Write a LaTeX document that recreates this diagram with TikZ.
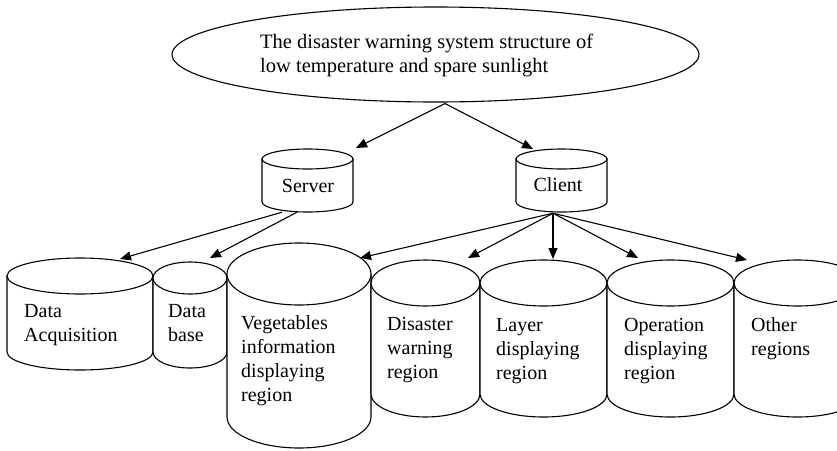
\documentclass[tikz,border=0pt]{standalone}
\usepackage{fontspec}
\setmainfont{Liberation Serif}
\usetikzlibrary{arrows.meta,shapes.geometric}
\tikzset{
  cylbody/.style={draw, line width=1.1pt, fill=white},
  cylbox/.style={inner sep=0pt, draw=none},
  lbl/.style={font=\fontsize{20}{24}\selectfont, align=left, inner sep=0pt, anchor=base west},
  clbl/.style={font=\fontsize{20}{24}\selectfont, inner sep=0pt, anchor=base},
  arr/.style={line width=1.1pt, -{Triangle[length=11pt,width=9pt]}}
}
% #1 name, #2 x1, #3 x2, #4 ytop, #5 ybot, #6 ry
\newcommand\mycyl[6]{%
  \pgfmathsetmacro\cylcx{(#2+#3)/2}%
  \pgfmathsetmacro\cylrx{(#3-#2)/2}%
  \pgfmathsetmacro\cylw{#3-#2}%
  \pgfmathsetmacro\cylh{#5-#4}%
  \pgfmathsetmacro\cylcy{(#4+#5)/2}%
  \draw[cylbody] (#2,#4+#6) -- (#2,#5-#6)
     arc[start angle=180, end angle=0, x radius=\cylrx, y radius=#6]
     -- (#3,#4+#6) -- cycle;
  \draw[cylbody] (\cylcx,#4+#6) ellipse[x radius=\cylrx, y radius=#6];
  \node[cylbox, minimum width=\cylw pt, minimum height=\cylh pt] (#1) at (\cylcx,\cylcy) {};
}
\begin{document}
\begin{tikzpicture}[x=1pt, y=-1pt]
\useasboundingbox (0,0) rectangle (837,450);
\fill[white] (0,0) rectangle (837,450);

% top ellipse
\node[draw, ellipse, line width=1.1pt, minimum width=527pt, minimum height=95pt,
      inner sep=0pt] (sys) at (435.5,54.5) {};
\node[lbl, font=\fontsize{20.5}{24}\selectfont] (sysT) at (260,72)
  {The disaster warning system structure of\\low temperature and spare sunlight};

% second level
\mycyl{server}{262}{353}{149}{212}{10}
\mycyl{client}{516}{607}{149}{212}{10}
\node[clbl] (serverT) at (308,192) {Server};
\node[clbl] (clientT) at (558,191) {Client};

% bottom level
\mycyl{da}{7}{153}{258}{370}{18}
\mycyl{db}{153}{227}{262}{368}{16}
\mycyl{veg}{227}{371}{243}{448}{31}
\mycyl{dis}{371}{480}{260}{417}{23}
\mycyl{lay}{480}{607}{260}{417}{23}
\mycyl{ope}{607}{734}{260}{417}{23}
\mycyl{oth}{734}{861}{260}{417}{23}

% anchor = baseline of the last line
\node[lbl] (daT) at (24,341) {Data\\Acquisition};
\node[lbl] (dbT) at (168,341) {Data\\base};
\node[lbl] (vegT) at (241,401) {Vegetables\\information\\displaying\\region};
\node[lbl] (disT) at (387,378) {Disaster\\warning\\region};
\node[lbl] (layT) at (496,379) {Layer\\displaying\\region};
\node[lbl] (opeT) at (624,379) {Operation\\displaying\\region};
\node[lbl] (othT) at (751,355) {Other\\regions};

% connector end points
\coordinate (sysS) at ([xshift=9.5pt,yshift=-1pt]sys.south);
\coordinate (serverTip) at (356,148);
\coordinate (clientTip) at (533,149);
\coordinate (serverS1) at ([xshift=-25.5pt]server.south);
\coordinate (serverS2) at ([xshift=-10.5pt]server.south);
\coordinate (clientS) at ([xshift=-8.5pt,yshift=-1pt]client.south);
\coordinate (daTip) at (120,259);
\coordinate (dbTip) at (210,258);
\coordinate (vegTip) at (360,258);
\coordinate (disTip) at (468,258);
\coordinate (layTip) at (553,259);
\coordinate (opeTip) at (638,258);
\coordinate (othTip) at (747,260);

\draw[arr] (sysS) -- (serverTip);
\draw[arr] (sysS) -- (clientTip);
\draw[arr] (serverS1) -- (daTip);
\draw[arr] (serverS2) -- (dbTip);
\draw[arr] (clientS) -- (vegTip);
\draw[arr] (clientS) -- (disTip);
\draw[arr] (clientS) -- (layTip);
\draw[arr] (clientS) -- (opeTip);
\draw[arr] (clientS) -- (othTip);
\end{tikzpicture}
\end{document}
